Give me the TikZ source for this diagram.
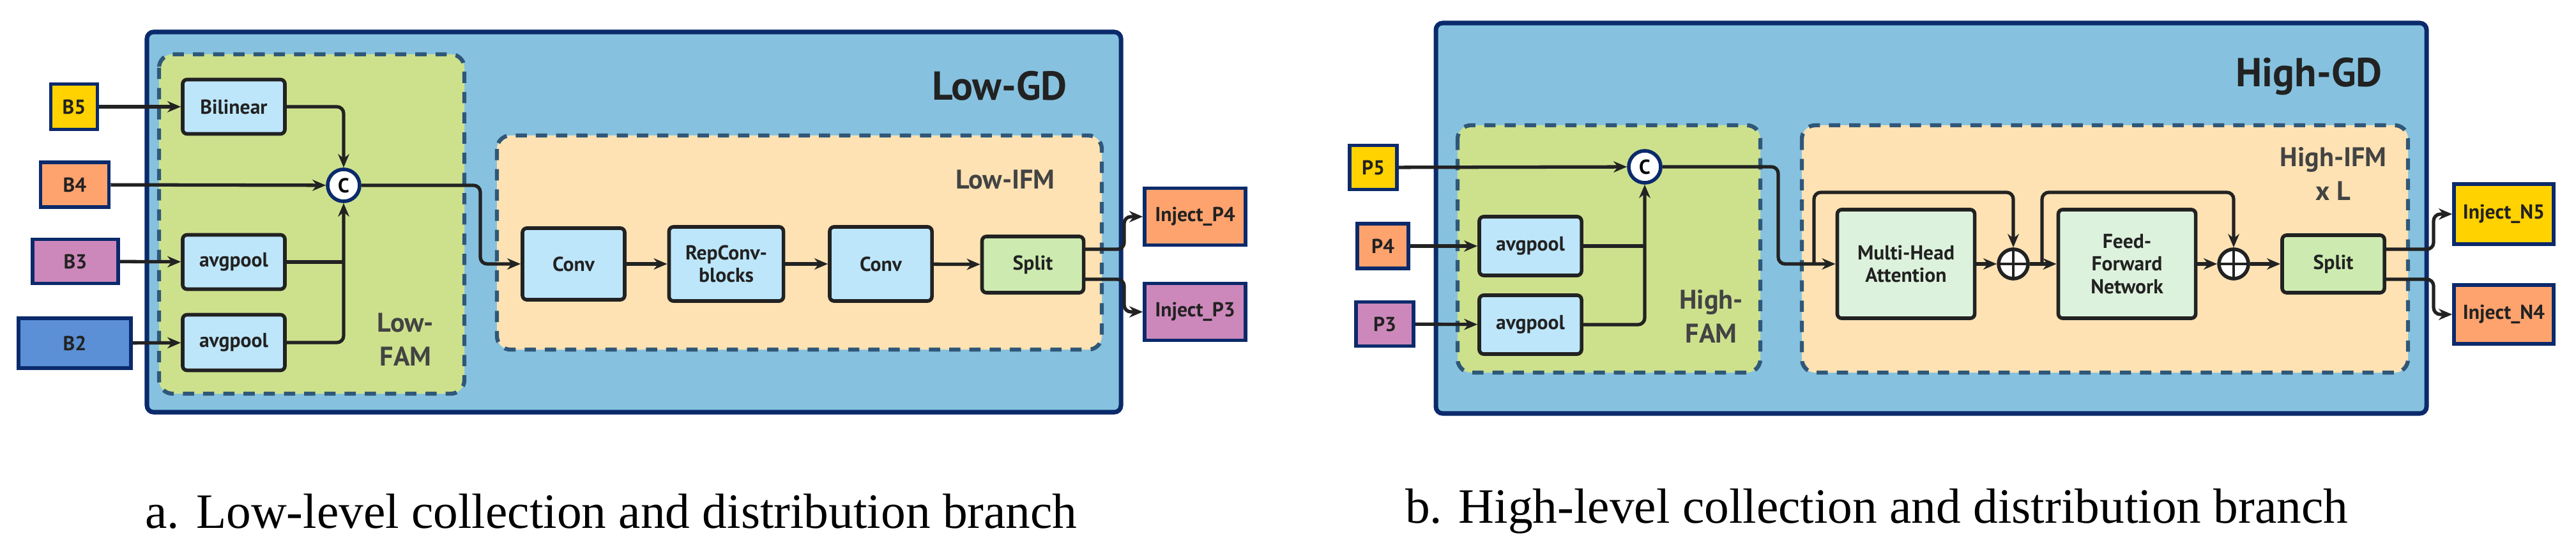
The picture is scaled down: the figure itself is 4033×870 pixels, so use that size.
\documentclass[tikz,border=0pt]{standalone}
\usepackage{fontspec}
\setmainfont{Liberation Serif}
\newfontfamily\dsans{PT Sans}
\usetikzlibrary{arrows.meta}
\definecolor{gdblue}{HTML}{86C2DF}
\definecolor{navy}{HTML}{0B2A6B}
\definecolor{famgreen}{HTML}{CDE18D}
\definecolor{ifmorange}{HTML}{FEE2B3}
\definecolor{opblue}{HTML}{BDE6FA}
\definecolor{splitgreen}{HTML}{CDEBB0}
\definecolor{palegreen}{HTML}{DDF2DC}
\definecolor{cyellow}{HTML}{FFD200}
\definecolor{corange}{HTML}{FFA36E}
\definecolor{cpink}{HTML}{CC88BB}
\definecolor{cblue}{HTML}{5B8FD6}
\definecolor{dashc}{HTML}{2F5778}
\definecolor{ink}{HTML}{222222}
\tikzset{
  gd/.style={draw=navy,line width=2pt,fill=gdblue,rounded corners=3pt},
  fam/.style={draw=dashc,line width=1.8pt,dash pattern=on 5pt off 4pt,fill=famgreen,rounded corners=6pt},
  ifm/.style={draw=dashc,line width=1.8pt,dash pattern=on 5pt off 4pt,fill=ifmorange,rounded corners=6pt},
  op/.style={draw=ink,line width=1.6pt,rounded corners=2pt,fill=opblue,font=\dsans\bfseries\fontsize{9}{10}\selectfont,text=ink,align=center,inner sep=1pt},
  inp/.style={draw=navy,line width=1.6pt,font=\dsans\bfseries\fontsize{9}{10}\selectfont,text=ink,inner sep=1pt},
  cat/.style={circle,draw=navy,line width=1.6pt,fill=white,minimum size=0.5cm,inner sep=0pt,font=\dsans\bfseries\fontsize{9}{10}\selectfont},
  plus/.style={circle,draw=ink,line width=1.6pt,fill=white,minimum size=0.46cm,inner sep=0pt,
    path picture={\draw[ink,line width=1.2pt] (path picture bounding box.north)--(path picture bounding box.south) (path picture bounding box.west)--(path picture bounding box.east);}},
  ar/.style={draw=ink,line width=1.5pt,-{Stealth[length=6pt,width=5pt]},rounded corners=3pt},
  ln/.style={draw=ink,line width=1.5pt,rounded corners=3pt},
  big/.style={font=\dsans\bfseries\fontsize{18}{20}\selectfont,text=ink},
  mid/.style={font=\dsans\bfseries\fontsize{12}{15}\selectfont,text=ink!85,align=center},
  captxt/.style={font=\fontsize{22}{26}\selectfont}
}
\begin{document}
\begin{tikzpicture}[x=0.01cm,y=-0.01cm]
\useasboundingbox (0,0) rectangle (4033,870);
% ---------- Low-GD ----------
\draw[gd] (230,50) rectangle (1755,645);
\draw[fam] (249,85) rectangle (727,616);
\draw[ifm] (778,212) rectangle (1725,547);
\node[big] (lgd) at (1565,134) {Low-GD};
\node[mid] (lifm) at (1574,281) {Low-IFM};
\node[mid] (lfam) at (635,531) {Low-\\FAM};
\node[inp,fill=cyellow,minimum width=0.73cm,minimum height=0.71cm] (B5) at (116,167) {B5};
\node[inp,fill=corange,minimum width=1.07cm,minimum height=0.70cm] (B4) at (117,289) {B4};
\node[inp,fill=cpink,minimum width=1.34cm,minimum height=0.69cm] (B3) at (118,409) {B3};
\node[inp,fill=cblue,minimum width=1.76cm,minimum height=0.78cm] (B2) at (117,537) {B2};
\node[op,minimum width=1.6cm,minimum height=0.85cm] (bil) at (366,167) {Bilinear};
\node[op,minimum width=1.6cm,minimum height=0.85cm] (ap1) at (366,410) {avgpool};
\node[op,minimum width=1.6cm,minimum height=0.87cm] (ap2) at (366,536) {avgpool};
\node[cat] (C1) at (538,290) {C};
\node[op,minimum width=1.6cm,minimum height=1.12cm] (conv1) at (898,413) {Conv};
\node[op,minimum width=1.79cm,minimum height=1.16cm] (rep) at (1137,413) {RepConv-\\blocks};
\node[op,minimum width=1.6cm,minimum height=1.16cm] (conv2) at (1379,413) {Conv};
\node[op,fill=splitgreen,minimum width=1.59cm,minimum height=0.88cm] (split1) at (1617,414) {Split};
\node[inp,fill=corange,minimum width=1.58cm,minimum height=0.89cm] (ip4) at (1871,339) {Inject\_P4};
\node[inp,fill=cpink,minimum width=1.58cm,minimum height=0.89cm] (ip3) at (1871,488) {Inject\_P3};
\draw[ar] (B5) -- (bil);
\draw[ar] (B4) -- (C1);
\draw[ar] (B3) -- (ap1);
\draw[ar] (B2) -- (ap2);
\draw[ar] (bil.east) -| (C1.north);
\draw[ln] (ap1.east) -- (C1.south |- ap1.east);
\draw[ar] (ap2.east) -| (C1.south);
\coordinate (lbend) at (752,290);
\draw[ar] (C1.east) -- (lbend) |- (conv1.west);
\draw[ar] (conv1) -- (rep);
\draw[ar] (rep) -- (conv2);
\draw[ar] (conv2) -- (split1);
\coordinate (s1a) at (1697,390);
\coordinate (s1b) at (1697,437);
\draw[ar] (s1a) -- (1760,390) -- (1760,339) -- (ip4.west);
\draw[ar] (s1b) -- (1760,437) -- (1760,488) -- (ip3.west);
% ---------- High-GD ----------
\draw[gd] (2248,36) rectangle (3799,647);
\draw[fam] (2282,196) rectangle (2756,583);
\draw[ifm] (2821,196) rectangle (3770,583);
\node[big] (hgd) at (3615,120) {High-GD};
\node[mid] (hifm) at (3653,272) {High-IFM\\x L};
\node[mid] (hfam) at (2679,495) {High-\\FAM};
\node[inp,fill=cyellow,minimum width=0.74cm,minimum height=0.69cm] (P5) at (2150,262) {P5};
\node[inp,fill=corange,minimum width=0.8cm,minimum height=0.70cm] (P4) at (2165,385) {P4};
\node[inp,fill=cpink,minimum width=0.9cm,minimum height=0.69cm] (P3) at (2168,507) {P3};
\node[cat] (C2) at (2575,261) {C};
\node[op,minimum width=1.6cm,minimum height=0.92cm] (hap1) at (2396,385) {avgpool};
\node[op,minimum width=1.6cm,minimum height=0.92cm] (hap2) at (2396,508) {avgpool};
\node[op,fill=palegreen,minimum width=2.15cm,minimum height=1.7cm] (mha) at (2984,413) {Multi-Head\\Attention};
\node[op,fill=palegreen,minimum width=2.15cm,minimum height=1.7cm] (ffn) at (3330,413) {Feed-\\Forward\\Network};
\node[plus] (pl1) at (3152,413) {};
\node[plus] (pl2) at (3497,413) {};
\node[op,fill=splitgreen,minimum width=1.6cm,minimum height=0.9cm] (split2) at (3653,413) {Split};
\node[inp,fill=cyellow,minimum width=1.56cm,minimum height=0.94cm] (in5) at (3920,335) {Inject\_N5};
\node[inp,fill=corange,minimum width=1.56cm,minimum height=0.92cm] (in4) at (3920,492) {Inject\_N4};
\draw[ar] (P5) -- (C2);
\draw[ar] (P4) -- (hap1);
\draw[ar] (P3) -- (hap2);
\draw[ln] (hap1.east) -- (C2.south |- hap1.east);
\draw[ar] (hap2.east) -| (C2.south);
\coordinate (hbend) at (2784,261);
\coordinate (sk1) at (2840,413);
\coordinate (sk2) at (3197,413);
\draw[ar] (C2.east) -- (hbend) |- (mha.west);
\draw[ar] (sk1) -- (2840,301) -| (pl1.north);
\draw[ar] (mha) -- (pl1);
\draw[ar] (pl1) -- (ffn);
\draw[ar] (sk2) -- (3197,301) -| (pl2.north);
\draw[ar] (ffn) -- (pl2);
\draw[ar] (pl2) -- (split2);
\coordinate (s2a) at (3733,390);
\coordinate (s2b) at (3733,437);
\draw[ar] (s2a) -- (3810,390) -- (3810,335) -- (in5.west);
\draw[ar] (s2b) -- (3810,437) -- (3810,492) -- (in4.west);
% ---------- captions ----------
\node[captxt] (capa) at (957,800) {a. Low-level collection and distribution branch};
\node[captxt] (capb) at (2938,800) {b. High-level collection and distribution branch};
\end{tikzpicture}
\end{document}
